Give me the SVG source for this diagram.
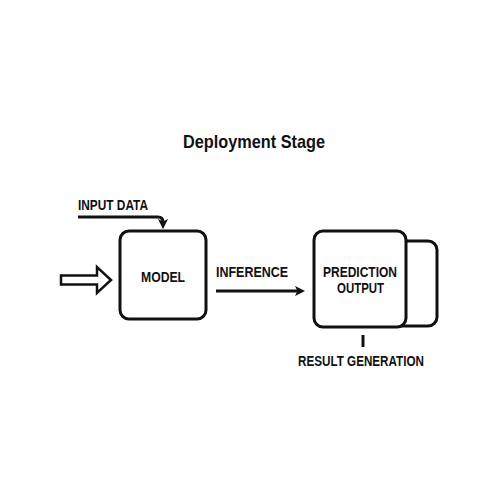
<svg xmlns="http://www.w3.org/2000/svg" width="500" height="500" viewBox="0 0 500 500">
<style>
text{font-family:"Liberation Sans","Arial",sans-serif;font-weight:bold;fill:#111}
.box{fill:#fff;stroke:#111;stroke-width:3}
.ln{fill:none;stroke:#111;stroke-width:3}
.lbl{font-size:14.5px}
</style>
<defs>
<marker id="ah" viewBox="0 0 10 10" refX="5" refY="5" markerWidth="3.4" markerHeight="3.4" orient="auto" markerUnits="strokeWidth">
<path d="M0,0 L10,5 L0,10 L2.5,5 Z" fill="#111"/>
</marker>
</defs>
<rect width="500" height="500" fill="#fff"/>
<text x="183" y="148" font-size="19" textLength="142" lengthAdjust="spacingAndGlyphs">Deployment Stage</text>
<g id="connectors">
<path class="ln" d="M78,217 L158,217 Q163,217 163,222 L163,224" marker-end="url(#ah)"/>
<path class="ln" d="M216,291 L300,291" marker-end="url(#ah)"/>
<path d="M61,275.5 L97,275.5 L97,267 L111,280 L97,293 L97,284.5 L61,284.5 Z" fill="none" stroke="#111" stroke-width="2.5" stroke-linejoin="miter"/>
<line class="ln" x1="363" y1="335" x2="363" y2="347"/>
</g>
<g id="input-data"><text class="lbl" x="78" y="210" textLength="70" lengthAdjust="spacingAndGlyphs">INPUT DATA</text></g>
<g id="model">
<rect class="box" x="120" y="231" width="86" height="88" rx="9"/>
<text class="lbl" x="141" y="282" textLength="44" lengthAdjust="spacingAndGlyphs">MODEL</text>
</g>
<g id="inference"><text class="lbl" x="216" y="277" textLength="72" lengthAdjust="spacingAndGlyphs">INFERENCE</text></g>
<g id="prediction-output">
<rect class="box" x="388" y="241" width="49" height="85" rx="9"/>
<rect class="box" x="314" y="231" width="92" height="96" rx="9"/>
<text class="lbl" x="323" y="277" textLength="74" lengthAdjust="spacingAndGlyphs">PREDICTION</text>
<text class="lbl" x="337" y="293" textLength="47" lengthAdjust="spacingAndGlyphs">OUTPUT</text>
</g>
<g id="result-generation"><text class="lbl" x="298" y="366" textLength="126" lengthAdjust="spacingAndGlyphs">RESULT GENERATION</text></g>
</svg>
